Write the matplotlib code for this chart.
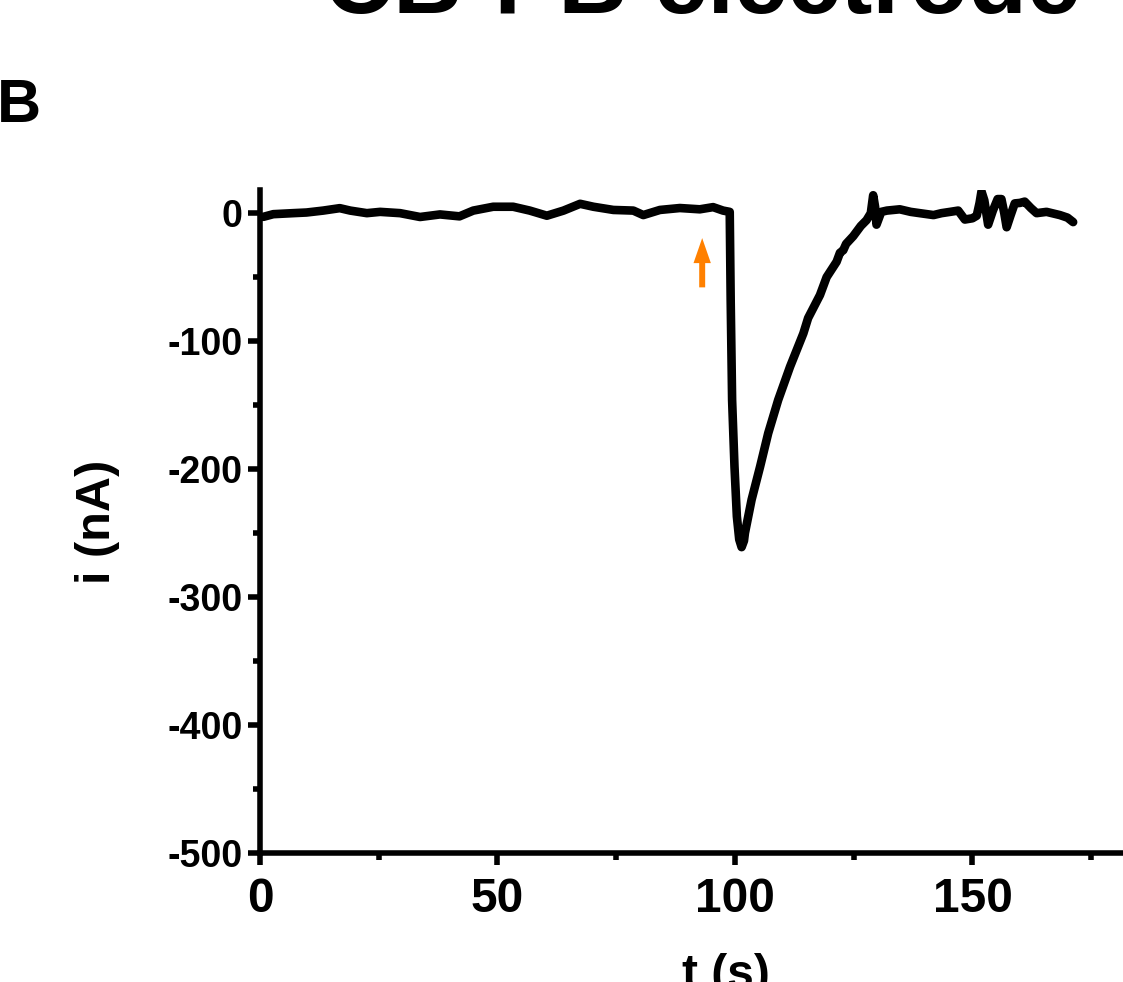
import matplotlib
matplotlib.use("Agg")
import matplotlib.pyplot as plt
from matplotlib.ticker import MultipleLocator

plt.rcParams['font.family'] = ['Liberation Sans', 'DejaVu Sans']
plt.rcParams['font.weight'] = 'bold'
plt.rcParams['axes.unicode_minus'] = False

# amperometric trace (t in s, i in nA)
t = [0.7, 2.8, 7.0, 9.8, 13.3, 16.8, 19.0, 22.5, 25.3, 29.5, 33.7, 37.9, 42.0,
     44.9, 49.1, 53.3, 56.8, 60.4, 63.9, 67.4, 70.2, 74.4, 78.6, 80.7, 84.2,
     88.4, 92.6, 95.4, 97.5, 98.9,
     99.1, 99.4, 99.9, 100.4, 100.9, 101.4, 101.9, 102.1, 103.5, 105.3, 107.0,
     109.1, 111.6, 114.4, 115.4, 117.9, 119.3, 121.4, 122.1, 122.8, 123.4,
     124.9, 126.5, 127.7, 128.6, 129.1, 129.5, 129.8, 130.3, 130.8, 132.0,
     134.7, 137.0, 138.9, 141.8, 143.5, 145.3, 147.0, 148.4, 150.0, 150.9,
     151.5, 151.9, 152.5, 153.3, 154.3, 155.3, 156.1, 156.7, 157.2, 158.0,
     158.9, 160.0, 161.0, 162.3, 163.5, 165.6, 168.4, 170.0, 171.2]
i = [-2.9, -0.8, 0.0, 0.5, 2.0, 3.9, 2.0, 0.0, 1.0, 0.0, -3.0, -1.0, -2.5,
     2.0, 5.0, 5.0, 2.0, -2.0, 2.0, 7.3, 5.0, 2.5, 2.0, -1.5, 2.5,
     4.0, 3.0, 4.7, 2.0, 1.0,
     -68, -146, -198, -237, -255, -261, -256, -250, -224, -198, -172,
     -146, -120, -94, -82, -64, -50, -38, -31, -29, -24,
     -18, -10, -5.5, 0.0, 14.0, 5.0, -9.0, -4.0, 1.0, 2.0,
     3.0, 1.0, 0.0, -1.5, 0.0, 1.0, 2.0, -5.0, -4.0, -2.0,
     8.0, 17.0, 10.0, -9.0, 2.0, 11.0, 11.0, 0.0, -11.0, -2.0,
     7.6, 8.0, 9.0, 4.0, 0.0, 1.0, -1.5, -3.5, -7.0]

# injection arrow (orange)
arrow_t = 93.1
arrow_tail = -58
arrow_tip = -19.5

fig = plt.figure(figsize=(11.23, 9.82), dpi=100)
ax = fig.add_axes([0.2315, 0.1314, 0.829, 0.675])

ax.plot(t, i, color='black', lw=6.2, solid_joinstyle='round', solid_capstyle='round')

ax.annotate('', xy=(arrow_t, arrow_tip), xytext=(arrow_t, arrow_tail),
            arrowprops=dict(facecolor='#ff8000', edgecolor='none', width=4.3,
                            headwidth=12.5, headlength=18, shrink=0))

ax.set_xlim(0, 196)
ax.set_ylim(-500, 18)
ax.xaxis.set_major_locator(MultipleLocator(50))
ax.xaxis.set_minor_locator(MultipleLocator(25))
ax.yaxis.set_major_locator(MultipleLocator(100))
ax.yaxis.set_minor_locator(MultipleLocator(50))

for s in ['top', 'right']:
    ax.spines[s].set_visible(False)
for s in ['left', 'bottom']:
    ax.spines[s].set_linewidth(4)

ax.tick_params(which='major', direction='out', length=8.6, width=4)
ax.tick_params(which='minor', direction='out', length=4.7, width=4)
ax.tick_params(axis='x', which='major', labelsize=34.5, pad=9)
ax.tick_params(axis='y', which='major', labelsize=27, pad=4)
for lab in ax.get_xticklabels() + ax.get_yticklabels():
    lab.set_fontweight('bold')

ax.set_xlabel('t (s)', fontsize=34.5, fontweight='bold', labelpad=22)
ax.set_ylabel('i (nA)', fontsize=35, fontweight='bold', labelpad=34)

fig.text(702 / 1123, 1 - 13 / 982, 'CB-PB electrode', fontsize=69,
         fontweight='bold', ha='center', va='baseline')
fig.text(-0.003, 1 - 122 / 982, 'B', fontsize=44, fontweight='bold',
         ha='left', va='baseline')

fig.savefig('out.png', dpi=100)
